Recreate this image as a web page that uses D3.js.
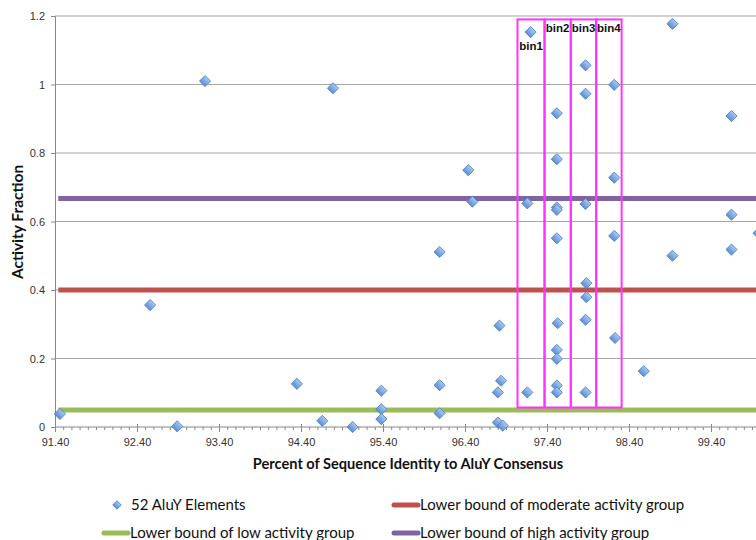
<!DOCTYPE html>
<html>
<head>
<meta charset="utf-8">
<script src="https://cdn.jsdelivr.net/npm/d3@7"></script>
<style>
  body { margin: 0; background: #fff; }
  svg { display: block; }
  .tick-label { font-family: "Liberation Sans", Arial, sans-serif; font-size: 11px; fill: #333; }
  .axis-title { font-family: Lato, "Open Sans", sans-serif; font-size: 14.6px; font-weight: bold; fill: #111; }
  .legend-text { font-family: Lato, "Open Sans", sans-serif; font-size: 15px; fill: #111; }
  .bin-label { font-family: "Liberation Sans", Arial, sans-serif; font-size: 11.5px; font-weight: bold; fill: #111; }
</style>
</head>
<body>
<div id="chart"></div>
<script>
// chart values
var xTicks = [91.4, 92.4, 93.4, 94.4, 95.4, 96.4, 97.4, 98.4, 99.4];
var yTicks = [0, 0.2, 0.4, 0.6, 0.8, 1, 1.2];

// percent identity of each AluY element
var identity = [91.46, 92.56, 93.23, 92.89, 94.35, 94.66, 94.79, 95.03, 95.38, 95.38,
  95.38, 96.09, 96.09, 96.09, 96.44, 96.49, 96.82, 96.84, 96.80, 96.80,
  96.86, 97.20, 97.16, 97.16, 97.52, 97.52, 97.52, 97.52, 97.52, 97.53,
  97.52, 97.52, 97.52, 97.52, 97.87, 97.87, 97.87, 97.88, 97.88, 97.87,
  97.87, 98.22, 98.22, 98.22, 98.23, 98.58, 98.93, 98.93, 99.65, 99.65,
  99.65, 99.98];
// activity fraction of each element
var activity = [0.038, 0.356, 1.010, 0.002, 0.126, 0.018, 0.989, 0.000, 0.106, 0.052,
  0.023, 0.511, 0.122, 0.040, 0.750, 0.658, 0.296, 0.135, 0.101, 0.013,
  0.004, 1.153, 0.653, 0.101, 0.916, 0.782, 0.641, 0.634, 0.551, 0.303,
  0.225, 0.199, 0.121, 0.101, 1.056, 0.973, 0.651, 0.420, 0.379, 0.313,
  0.101, 0.999, 0.728, 0.558, 0.260, 0.163, 1.177, 0.500, 0.908, 0.620,
  0.518, 0.566];

var boundNames = ["Lower bound of low activity group", "Lower bound of moderate activity group", "Lower bound of high activity group"];
var boundValues = [0.05, 0.4, 0.667];
var boundColors = ["#9bbb59", "#c0504d", "#8064a2"];

var binNames = ["bin1", "bin2", "bin3", "bin4"];
var binEdges = [97.04, 97.37, 97.69, 98.0, 98.31];
var binTop = 1.19, binBottom = 0.057;

var W = 756, H = 540;
var x = d3.scaleLinear().domain([91.4, 99.4]).range([55, 711]);
var y = d3.scaleLinear().domain([0, 1.2]).range([427, 16]);
var xEnd = x.invert(W);

var svg = d3.select("#chart").append("svg")
  .attr("width", W).attr("height", H);

var defs = svg.append("defs");
var grad = defs.append("linearGradient").attr("id", "dia")
  .attr("x1", 0).attr("y1", 0).attr("x2", 0).attr("y2", 1);
grad.append("stop").attr("offset", "0%").attr("stop-color", "#a8c8f2");
grad.append("stop").attr("offset", "100%").attr("stop-color", "#5a8fd8");

// gridlines
svg.append("g").selectAll("line")
  .data(yTicks.filter(d => d > 0))
  .enter().append("line")
  .attr("x1", x(91.4)).attr("x2", W)
  .attr("y1", d => y(d)).attr("y2", d => y(d))
  .attr("stroke", "#a6a6a6").attr("stroke-width", 1.2);

// y axis
var yAxis = svg.append("g").attr("transform", "translate(" + x(91.4) + ",0)")
  .call(d3.axisLeft(y).tickValues(yTicks).tickSize(4).tickPadding(6).tickFormat(d3.format("")));
yAxis.select(".domain").attr("stroke", "#888");
yAxis.selectAll(".tick line").attr("stroke", "#888");
yAxis.selectAll(".tick text").attr("class", "tick-label").attr("font-family", null).attr("font-size", null);

// x axis: major + minor ticks
var minor = d3.range(91.4, xEnd, 0.1);
var xMinor = svg.append("g").attr("transform", "translate(0," + y(0) + ")")
  .call(d3.axisBottom(x).tickValues(minor).tickSize(3).tickFormat(""));
xMinor.select(".domain").remove();
xMinor.selectAll(".tick line").attr("stroke", "#888");

var xAxis = svg.append("g").attr("transform", "translate(0," + y(0) + ")")
  .call(d3.axisBottom(x).tickValues(xTicks).tickSize(5).tickPadding(6).tickFormat(d3.format(".2f")));
xAxis.select(".domain").attr("d", "M" + x(91.4) + ",0H" + W).attr("stroke", "#888");
xAxis.selectAll(".tick line").attr("stroke", "#888").attr("y1", -3);
xAxis.selectAll(".tick text").attr("class", "tick-label").attr("font-family", null).attr("font-size", null);

// threshold lines
svg.append("g").selectAll("line")
  .data(boundValues)
  .enter().append("line")
  .attr("x1", x(91.44)).attr("x2", W)
  .attr("y1", d => y(d)).attr("y2", d => y(d))
  .attr("stroke", (d, i) => boundColors[i])
  .attr("stroke-width", 5);

// bins
svg.append("g").selectAll("rect")
  .data(binNames)
  .enter().append("rect")
  .attr("x", (d, i) => x(binEdges[i]))
  .attr("width", (d, i) => x(binEdges[i + 1]) - x(binEdges[i]))
  .attr("y", y(binTop))
  .attr("height", y(binBottom) - y(binTop))
  .attr("fill", "none")
  .attr("stroke", "#ff33ff")
  .attr("stroke-width", 2);

svg.append("g").selectAll("text")
  .data(binNames)
  .enter().append("text")
  .attr("class", "bin-label")
  .attr("text-anchor", "middle")
  .attr("x", (d, i) => (x(binEdges[i]) + x(binEdges[i + 1])) / 2)
  .attr("y", (d, i) => i === 0 ? 50 : 32)
  .text(d => d);

// points
var diamond = d3.symbol().type(d3.symbolSquare).size(62);
svg.append("g").selectAll("path")
  .data(identity.map((v, i) => [v, activity[i]]))
  .enter().append("path")
  .attr("d", diamond)
  .attr("transform", d => "translate(" + x(d[0]) + "," + y(d[1]) + ") rotate(45)")
  .attr("fill", "url(#dia)")
  .attr("stroke", "#4a7ebb")
  .attr("stroke-width", 0.8);

// axis titles
svg.append("text").attr("class", "axis-title")
  .attr("text-anchor", "middle")
  .attr("x", 408).attr("y", 469)
  .text("Percent of Sequence Identity to AluY Consensus");

svg.append("text").attr("class", "axis-title")
  .style("font-size", "15.5px")
  .attr("text-anchor", "middle")
  .attr("transform", "translate(23," + (y(0.6) + 0.5) + ") rotate(-90)")
  .text("Activity Fraction");

// legend
var lg = svg.append("g");
lg.append("path").attr("d", d3.symbol().type(d3.symbolSquare).size(36))
  .attr("transform", "translate(117,505) rotate(45)")
  .attr("fill", "url(#dia)").attr("stroke", "#4a7ebb").attr("stroke-width", 0.8);
lg.append("text").attr("class", "legend-text").attr("x", 131).attr("y", 510).text("52 AluY Elements");

var legendPos = [[104, 533], [394, 505], [394, 533]];
var items = lg.selectAll(".litem").data(boundNames).enter().append("g").attr("class", "litem");
items.append("line")
  .attr("x1", (d, i) => legendPos[i][0]).attr("x2", (d, i) => legendPos[i][0] + 24)
  .attr("y1", (d, i) => legendPos[i][1]).attr("y2", (d, i) => legendPos[i][1])
  .attr("stroke", (d, i) => boundColors[i]).attr("stroke-width", 5).attr("stroke-linecap", "round");
items.append("text").attr("class", "legend-text")
  .attr("x", (d, i) => legendPos[i][0] + 26)
  .attr("y", (d, i) => legendPos[i][1] + 5)
  .text(d => d);
</script>
</body>
</html>
